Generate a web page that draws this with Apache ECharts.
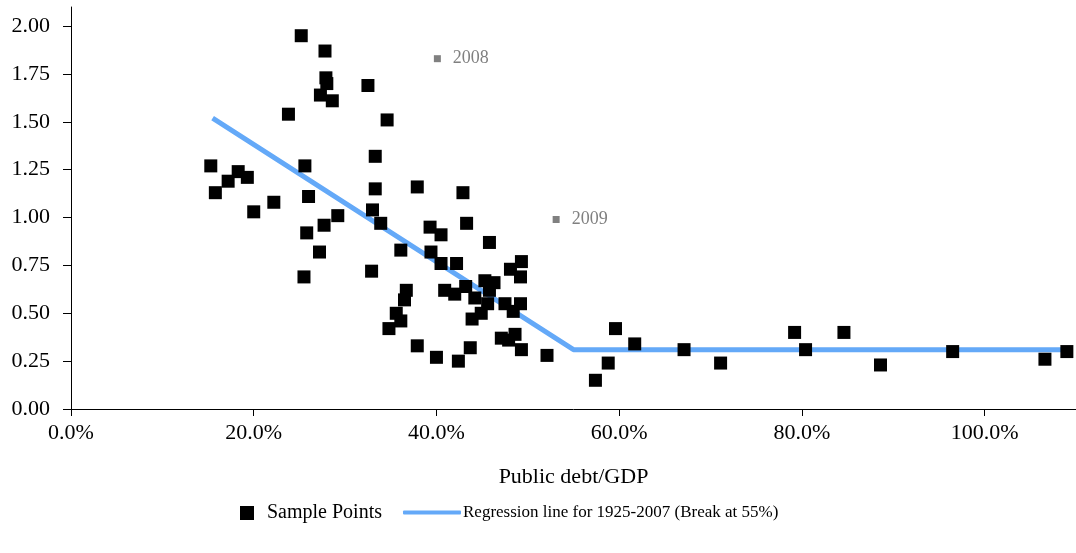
<!DOCTYPE html>
<html>
<head>
<meta charset="utf-8">
<script src="https://cdn.jsdelivr.net/npm/echarts@6/dist/echarts.min.js"></script>
<style>
  html, body { margin: 0; padding: 0; background: #fff; }
  #chart { width: 1076px; height: 553px; }
</style>
</head>
<body>
<div id="chart"></div>
<script>
// sample points: public debt/GDP (share) and value
const sampleDebt = [
    0.153, 0.158, 0.172, 0.183, 0.193, 0.200, 0.222, 0.238, 0.252, 0.256,
    0.255, 0.258, 0.260, 0.272, 0.273, 0.277, 0.278, 0.279, 0.280, 0.286,
    0.292, 0.325, 0.346, 0.333, 0.333, 0.379, 0.429, 0.330, 0.339, 0.393,
    0.405, 0.433, 0.361, 0.394, 0.405, 0.422, 0.458, 0.329, 0.493, 0.481,
    0.492, 0.367, 0.365, 0.409, 0.420, 0.432, 0.453, 0.463, 0.458, 0.442,
    0.456, 0.449, 0.475, 0.492, 0.484, 0.356, 0.361, 0.348, 0.439, 0.471,
    0.486, 0.479, 0.493, 0.379, 0.437, 0.400, 0.424, 0.521,
    0.596, 0.617, 0.588, 0.574, 0.671, 0.711, 0.792, 0.804, 0.846, 0.886,
    0.965, 1.066, 1.090
];
const sampleValues = [
    1.27, 1.13, 1.19, 1.24, 1.21, 1.03, 1.08, 1.54, 1.95, 1.27,
    0.69, 0.92, 1.11, 0.82, 1.64, 0.96, 1.87, 1.73, 1.70, 1.61,
    1.01, 1.69, 1.51, 1.32, 1.15, 1.16, 1.13, 1.04, 0.97, 0.95,
    0.91, 0.97, 0.83, 0.82, 0.76, 0.76, 0.87, 0.72, 0.77, 0.73,
    0.69, 0.62, 0.57, 0.62, 0.60, 0.64, 0.67, 0.66, 0.62, 0.58,
    0.55, 0.50, 0.55, 0.55, 0.51, 0.50, 0.46, 0.42, 0.47, 0.37,
    0.39, 0.36, 0.31, 0.33, 0.32, 0.27, 0.25, 0.28,
    0.42, 0.34, 0.24, 0.15, 0.31, 0.24, 0.40, 0.31, 0.40, 0.23,
    0.30, 0.26, 0.30
];

// regression line 1925-2007, break at 55%
const regDebt = [0.155, 0.55, 1.095];
const regValues = [1.52, 0.31, 0.31];

// highlighted years
const yearLabels = ['2008', '2009'];
const yearDebt = [0.401, 0.531];
const yearValues = [1.83, 0.99];

const xTicks = [0, 0.2, 0.4, 0.6, 0.8, 1.0];
const yTicks = [0, 0.25, 0.5, 0.75, 1.0, 1.25, 1.5, 1.75, 2.0];

const FONT = '"Liberation Serif", "Times New Roman", serif';
const BLUE = '#64a9f8';
const chart = echarts.init(document.getElementById('chart'));

const option = {
    animation: false,
    grid: { left: 71, right: -5, top: 7, bottom: 144 },
    xAxis: {
        type: 'value',
        min: 0,
        max: 1.1,
        name: 'Public debt/GDP',
        nameLocation: 'middle',
        nameGap: 57,
        nameTextStyle: { fontFamily: FONT, fontSize: 22, color: '#000' },
        splitLine: { show: false },
        axisLine: { lineStyle: { color: '#000', width: 1 } },
        axisTick: { length: 7, customValues: xTicks, lineStyle: { color: '#000' } },
        axisLabel: {
            customValues: xTicks,
            margin: 13,
            fontFamily: FONT, fontSize: 22, color: '#000',
            formatter: v => (v * 100).toFixed(1) + '%'
        }
    },
    yAxis: {
        type: 'value',
        min: 0,
        max: 2.1,
        splitLine: { show: false },
        axisLine: { show: true, lineStyle: { color: '#000', width: 1 } },
        axisTick: { show: true, length: 8, customValues: yTicks, lineStyle: { color: '#000' } },
        axisLabel: {
            customValues: yTicks,
            margin: 21,
            fontFamily: FONT, fontSize: 22, color: '#000',
            formatter: v => v.toFixed(2)
        }
    },
    legend: [
        {
            data: ['Sample Points'],
            left: 235, top: 498,
            itemWidth: 14, itemHeight: 14,
            icon: 'rect',
            textStyle: { fontFamily: FONT, fontSize: 20, color: '#000', padding: [0, 0, 0, 8] }
        },
        {
            data: ['Regression line for 1925-2007 (Break at 55%)'],
            left: 398, top: 499,
            itemWidth: 58, itemHeight: 4,
            icon: 'roundRect',
            itemStyle: { color: BLUE },
            textStyle: { fontFamily: FONT, fontSize: 17, color: '#000', padding: [0, 0, 0, -3] }
        }
    ],
    series: [
        {
            name: 'Sample Points',
            type: 'scatter',
            symbol: 'rect',
            symbolSize: 13,
            itemStyle: { color: '#000', opacity: 1 },
            data: sampleDebt.map((d, i) => [d, sampleValues[i]]),
            z: 3
        },
        {
            name: 'Regression line for 1925-2007 (Break at 55%)',
            type: 'line',
            symbol: 'none',
            lineStyle: { color: BLUE, width: 5 },
            itemStyle: { color: BLUE },
            data: regDebt.map((d, i) => [d, regValues[i]]),
            z: 2
        },
        {
            name: 'years',
            type: 'scatter',
            symbol: 'rect',
            symbolSize: 7,
            itemStyle: { color: '#808080', opacity: 1 },
            label: {
                show: true,
                position: 'right',
                distance: 12,
                fontFamily: FONT, fontSize: 18, color: '#808080',
                formatter: p => yearLabels[p.dataIndex]
            },
            data: yearDebt.map((d, i) => [d, yearValues[i]]),
            z: 3
        }
    ]
};

chart.setOption(option);
</script>
</body>
</html>
